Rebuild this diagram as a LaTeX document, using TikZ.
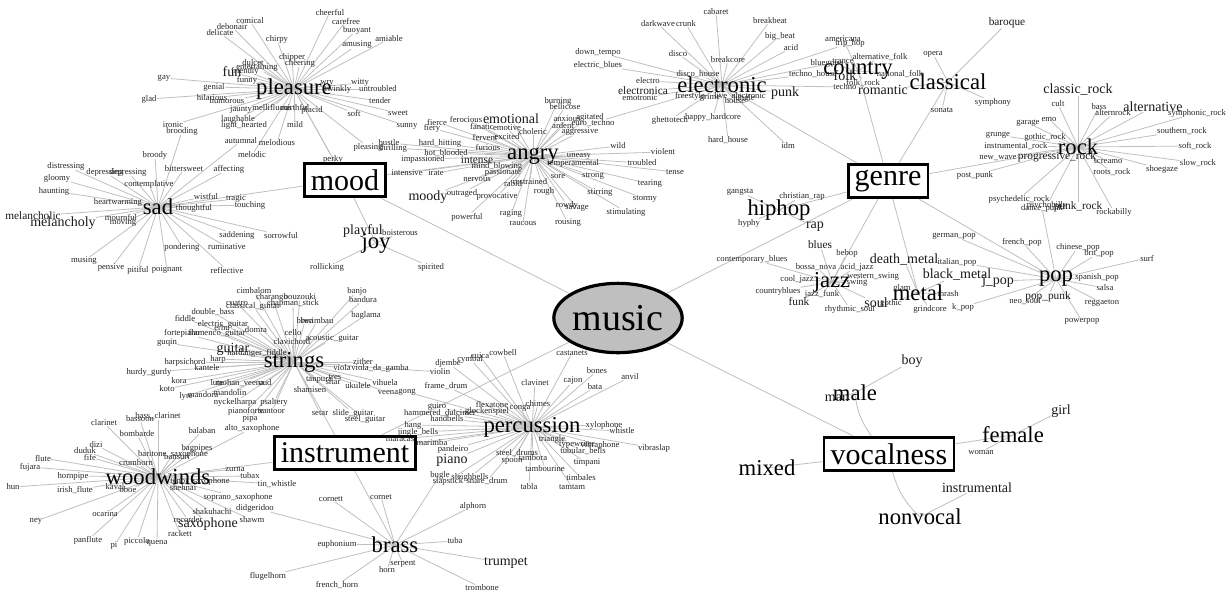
\documentclass[tikz,border=0pt]{standalone}
\usepackage{fontspec}
\setmainfont{Liberation Serif}
\usepackage{tikz}
\usetikzlibrary{shapes,arrows}
\pgfdeclarelayer{bg}
\pgfsetlayers{bg,main}

% leaves round a hub: name, list of x/y/style/text
\newcommand{\hubleaves}[2]{%
	\foreach \x/\y/\st/\t [count=\i] in {#2}
		\node[\st] (#1-\i) at (\x,\y) {\t};
	\begin{pgfonlayer}{bg}
		\foreach \x/\y/\st/\t [count=\i] in {#2}
			\draw[link] (#1.center) -- (#1-\i);
	\end{pgfonlayer}%
}

\begin{document}
\begin{tikzpicture}[x=0.75pt,y=-0.75pt,
	lfs/.style={inner sep=0pt,text=black!85,font=\fontsize{6.5}{7}\selectfont},
	lfm/.style={inner sep=0pt,text=black!90,font=\fontsize{8.5}{9}\selectfont},
	lfb/.style={inner sep=0pt,text=black!90,font=\fontsize{10.5}{11}\selectfont},
	hub/.style={inner sep=0pt,font=\fontsize{17}{17}\selectfont},
	cat/.style={draw,line width=2.2pt,fill=white,inner xsep=5pt,inner ysep=0pt,minimum height=25pt,font=\fontsize{22.5}{22.5}\selectfont},
	root/.style={ellipse,draw,line width=2.4pt,fill=gray!50,inner sep=0pt,minimum width=82pt,minimum height=52pt,font=\fontsize{28.5}{28.5}\selectfont},
	link/.style={gray!50,line width=0.6pt}]
		\useasboundingbox (0,0) rectangle (1231,594);

		% centre and the four groups
		\node[root] (music) at (618,318) {music};
		\node[cat] (mood) at (345,180) {mood};
		\node[cat] (genre) at (888,181) {genre};
		\node[cat] (instrument) at (345,453) {instrument};
		\node[cat] (vocalness) at (889,454) {vocalness};

		% hubs
		\node[hub] (pleasure) at (294,89) {pleasure};
		\node[hub] (sad) at (158,207) {sad};
		\node[hub] (angry) at (533,156) {angry};
		\node[hub] (joy) at (376,243) {joy};
		\node[hub] (electronic) at (722,85) {electronic};
		\node[hub] (country) at (858,71) {country};
		\node[hub] (classical) at (948,82) {classical};
		\node[hub] (rock) at (1078,147) {rock};
		\node[hub] (pop) at (1056,279) {pop};
		\node[hub] (metal) at (918,293) {metal};
		\node[hub] (jazz) at (832,282) {jazz};
		\node[hub] (hiphop) at (779,210) {hiphop};
		\node[hub] (strings) at (294,362) {strings};
		\node[hub] (woodwinds) at (158,477) {woodwinds};
		\node[hub] (percussion) at (532,427) {percussion};
		\node[hub] (brass) at (395,545) {brass};
		\node[hub] (male) at (855,393) {male};
		\node[hub] (female) at (1013,435) {female};
		\node[hub] (mixed) at (767,468) {mixed};
		\node[hub] (nonvocal) at (920,517) {nonvocal};

		\begin{pgfonlayer}{bg}
			\foreach \c in {mood,genre,instrument,vocalness}
				\draw[link] (music) -- (\c);
			\foreach \h in {pleasure,sad,angry,joy}
				\draw[link] (mood) -- (\h.center);
			\foreach \h in {electronic,country,classical,rock,pop,metal,jazz,hiphop}
				\draw[link] (genre) -- (\h.center);
			\foreach \h in {strings,woodwinds,percussion,brass}
				\draw[link] (instrument) -- (\h.center);
			\draw[link] (vocalness) to[bend left=15] (male.center);
			\draw[link] (vocalness) -- (female.center);
			\draw[link] (vocalness) -- (mixed.center);
			\draw[link] (vocalness) to[bend right=15] (nonvocal.center);
		\end{pgfonlayer}

		% mood
		\hubleaves{pleasure}{250/21/lfs/comical, 232/27/lfs/debonair, 220/33/lfs/delicate, 277/39/lfs/chirpy,
			292/57/lfs/chipper, 300/63/lfs/cheering, 253/63/lfs/dulcet, 257/68/lfs/entertaining, 245/71/lfs/friendly,
			232/72/lfb/fun, 247/80/lfs/funny, 164/78/lfs/gay, 214/87/lfs/genial, 149/99/lfs/glad, 212/98/lfs/hilarious,
			227/101/lfs/humorous, 241/110/lfs/jaunty, 272/107/lfs/mellifluous, 295/107/lfs/mirthful, 312/110/lfs/placid,
			238/119/lfs/laughable, 244/125/lfs/light\_hearted, 295/125/lfs/mild, 173/125/lfs/ironic, 277/143/lfs/melodious,
			252/155/lfs/melodic, 330/12/lfs/cheerful, 346/21/lfs/carefree, 357/30/lfs/buoyant, 389/39/lfs/amiable,
			357/45/lfs/amusing, 327/83/lfs/wry, 360/83/lfs/witty, 338/89/lfs/twinkly, 378/89/lfs/untroubled,
			380/101/lfs/tender, 354/113/lfs/soft, 398/113/lfs/sweet, 407/126/lfs/sunny, 333/159/lfs/perky, 368/147/lfs/pleasing}
		\hubleaves{sad}{182/131/lfs/brooding, 241/141/lfs/autumnal, 155/155/lfs/broody, 184/169/lfs/bittersweet,
			229/169/lfs/affecting, 66/166/lfs/distressing, 105/172/lfs/depressing, 128/172/lfs/depressing, 57/178/lfs/gloomy,
			149/184/lfs/contemplative, 54/191/lfs/haunting, 206/196/lfs/wistful, 236/199/lfs/tragic, 250/205/lfs/touching,
			118/202/lfs/heartwarming, 194/208/lfs/thoughtful, 33/216/lfm/melancholic, 63/223/lfb/melancholy,
			121/217/lfs/mournful, 123/223/lfs/moving, 237/235/lfs/saddening, 281/235/lfs/sorrowful, 182/247/lfs/pondering,
			227/247/lfs/ruminative, 84/261/lfs/musing, 111/268/lfs/pensive, 138/270/lfs/pitiful, 167/270/lfs/poignant,
			227/270/lfs/reflective}
		\hubleaves{angry}{437/122/lfs/fierce, 432/128/lfs/fiery, 466/119/lfs/ferocious, 511/119/lfb/emotional,
			482/126/lfs/fanatic, 507/128/lfs/emotive, 533/132/lfs/choleric, 563/126/lfs/ardent, 567/119/lfs/anxious,
			590/117/lfs/agitated, 558/101/lfs/burning, 565/107/lfs/bellicose, 580/132/lfs/aggressive, 485/137/lfs/fervent,
			507/137/lfs/excited, 488/147/lfs/furious, 440/143/lfs/hard\_hitting, 446/153/lfs/hot\_blooded,
			423/159/lfs/impassioned, 477/160/lfm/intense, 497/166/lfs/mind\_blowing, 503/173/lfs/passionate,
			407/173/lfs/intensive, 436/173/lfs/irate, 477/179/lfs/nervous, 513/184/lfs/rabid, 530/182/lfs/restrained,
			558/176/lfs/sore, 593/176/lfs/strong, 579/156/lfs/uneasy, 573/163/lfs/temperamental, 544/191/lfs/rough,
			428/197/lfb/moody, 462/193/lfs/outraged, 497/197/lfs/provocative, 600/193/lfs/stirring, 467/217/lfs/powerful,
			511/214/lfs/raging, 523/223/lfs/raucous, 567/205/lfs/rowdy, 577/208/lfs/savage, 568/223/lfs/rousing,
			626/212/lfs/stimulating, 645/199/lfs/stormy, 650/184/lfs/tearing, 675/172/lfs/tense, 642/163/lfs/troubled,
			663/152/lfs/violent, 618/146/lfs/wild, 389/143/lfs/bustle, 393/148/lfs/thrilling}
		\hubleaves{joy}{363/231/lfb/playful, 400/233/lfs/boisterous, 327/267/lfs/rollicking, 431/267/lfs/spirited}

		% genre
		\hubleaves{electronic}{716/12/lfs/cabaret, 658/24/lfs/darkwave, 686/24/lfs/crunk, 770/21/lfs/breakbeat,
			780/36/lfs/big\_beat, 791/48/lfs/acid, 678/54/lfs/disco, 598/52/lfs/down\_tempo, 598/65/lfs/electric\_blues,
			728/60/lfs/breakcore, 698/74/lfs/disco\_house, 648/81/lfs/electro, 643/91/lfm/electronica,
			640/98/lfs/emotronic, 690/96/lfs/freestyle, 740/96/lfs/live\_electronic, 710/98/lfs/grime, 735/101/lfs/house,
			744/98/lfs/jungle, 785/93/lfb/punk, 713/117/lfs/happy\_hardcore, 670/120/lfs/ghettotech,
			728/140/lfs/hard\_house, 788/146/lfs/idm, 593/123/lfs/euro\_techno, 850/43/lfs/trip\_hop, 843/61/lfs/trance,
			813/74/lfs/techno\_house, 845/87/lfs/techno}
		\hubleaves{country}{843/39/lfs/americana, 827/63/lfs/bluegrass, 880/57/lfs/alternative\_folk, 845/76/lfb/folk,
			900/74/lfs/national\_folk, 863/83/lfs/folk\_rock}
		\hubleaves{classical}{1007/23/lfm/baroque, 933/54/lfs/opera, 993/102/lfs/symphony, 942/110/lfs/sonata,
			883/90/lfb/romantic}
		\hubleaves{rock}{1078/90/lfb/classic\_rock, 1058/104/lfs/cult, 1099/107/lfs/bass, 1153/107/lfb/alternative,
			1113/113/lfs/alternrock, 1197/113/lfs/symphonic\_rock, 1049/119/lfs/emo, 1028/123/lfs/garage,
			1182/131/lfs/southern\_rock, 998/135/lfs/grunge, 1045/137/lfs/gothic\_rock, 1195/146/lfs/soft\_rock,
			1016/146/lfs/instrumental\_rock, 998/158/lfs/new\_wave, 1057/157/lfm/progressive\_rock, 1108/161/lfs/screamo,
			1198/163/lfs/slow\_rock, 1162/169/lfs/shoegaze, 1112/172/lfs/roots\_rock, 975/175/lfs/post\_punk,
			1019/199/lfs/psychedelic\_rock, 1047/205/lfs/psychobilly, 1078/207/lfm/punk\_rock, 1114/212/lfs/rockabilly}
		\hubleaves{pop}{954/236/lfs/german\_pop, 1022/242/lfs/french\_pop, 1078/247/lfs/chinese\_pop,
			1099/253/lfs/brit\_pop, 1147/258/lfs/surf, 957/262/lfs/italian\_pop, 998/281/lfb/j\_pop,
			1097/277/lfs/spanish\_pop, 1105/288/lfs/salsa, 1048/297/lfm/pop\_punk, 1025/301/lfs/neo\_soul,
			1102/303/lfs/reggaeton, 963/307/lfs/k\_pop, 1082/321/lfs/powerpop, 1042/208/lfs/dance\_punk}
		\hubleaves{metal}{904/260/lfb/death\_metal, 957/275/lfb/black\_metal, 902/288/lfs/glam, 891/303/lfs/gothic,
			948/294/lfs/thrash, 930/309/lfs/grindcore}
		\hubleaves{jazz}{820/245/lfm/blues, 847/253/lfs/bebop, 752/259/lfs/contemporary\_blues, 816/267/lfs/bossa\_nova,
			857/267/lfs/acid\_jazz, 873/277/lfs/western\_swing, 797/279/lfs/cool\_jazz, 857/283/lfs/swing,
			778/291/lfs/countryblues, 822/294/lfs/jazz\_funk, 799/302/lfm/funk, 850/309/lfs/rhythmic\_soul, 876/303/lfb/soul}
		\hubleaves{hiphop}{740/192/lfs/gangsta, 802/196/lfs/christian\_rap, 749/223/lfs/hyphy, 815/227/lfb/rap}

		% instrument
		\hubleaves{strings}{254/291/lfs/cimbalom, 272/297/lfs/charango, 300/297/lfs/bouzouki, 237/303/lfs/cuatro,
			253/306/lfs/classical\_guitar, 293/303/lfs/chapman\_stick, 213/312/lfs/double\_bass, 185/318/lfs/fiddle,
			223/324/lfs/electric\_guitar, 222/328/lfs/erhu, 256/330/lfs/domra, 182/333/lfs/fortepiano,
			217/333/lfs/flamenco\_guitar, 293/333/lfs/cello, 167/343/lfs/guqin, 292/342/lfs/clavichord,
			233/349/lfb/guitar, 257/353/lfs/hardanger\_fiddle, 185/362/lfs/harpsichord, 218/359/lfs/harp,
			207/368/lfs/kantele, 149/372/lfs/hurdy\_gurdy, 179/381/lfs/kora, 167/389/lfs/koto, 217/383/lfs/lute,
			240/383/lfs/mohan\_veena, 265/383/lfs/oud, 186/396/lfs/lyre, 203/395/lfs/mandora, 230/393/lfs/mandolin,
			235/402/lfs/nyckelharpa, 274/402/lfs/psaltery, 246/411/lfs/pianoforte, 272/411/lfs/santoor, 250/419/lfs/pipa,
			310/390/lfs/shamisen, 320/413/lfs/setar, 353/413/lfs/slide\_guitar, 365/419/lfs/steel\_guitar,
			357/291/lfs/banjo, 363/300/lfs/bandura, 366/315/lfs/baglama, 317/321/lfs/berimbau, 305/321/lfs/biwa,
			332/339/lfs/acoustic\_guitar, 363/362/lfs/zither, 342/368/lfs/viola, 380/368/lfs/viola\_da\_gamba,
			319/380/lfs/tanpura, 335/377/lfs/tres, 333/382/lfs/sitar, 358/386/lfs/ukulele, 385/383/lfs/vihuela,
			388/392/lfs/veena, 440/372/lfs/violin}
		\hubleaves{woodwinds}{104/423/lfs/clarinet, 140/419/lfs/bassoon, 158/416/lfs/bass\_clarinet,
			137/434/lfs/bombarde, 202/431/lfs/balaban, 96/445/lfs/dizi, 85/451/lfs/duduk, 90/457/lfs/fife,
			43/458/lfs/flute, 197/448/lfs/bagpipes, 173/454/lfs/baritone\_saxophone, 177/457/lfs/bansuri,
			136/463/lfs/crumhorn, 30/467/lfs/fujara, 73/476/lfs/hornpipe, 235/469/lfs/zurna, 250/476/lfs/tubax,
			200/481/lfs/tenor\_saxophone, 13/487/lfs/hun, 75/490/lfs/irish\_flute, 115/487/lfs/kaval, 128/490/lfs/oboe,
			183/488/lfs/shehnai, 277/484/lfs/tin\_whistle, 238/497/lfs/soprano\_saxophone, 105/514/lfs/ocarina,
			212/512/lfs/shakuhachi, 36/521/lfs/ney, 188/520/lfs/recorder, 208/524/lfb/saxophone, 252/520/lfs/shawm,
			180/534/lfs/rackett, 88/540/lfs/panflute, 137/541/lfs/piccolo, 114/546/lfs/pi, 157/543/lfs/quena,
			252/428/lfs/alto\_saxophone}
		\hubleaves{percussion}{572/353/lfs/castanets, 503/353/lfs/cowbell, 480/356/lfs/cuica, 470/359/lfs/cymbal,
			448/363/lfs/djembe, 597/371/lfs/bones, 573/381/lfs/cajon, 595/387/lfs/bata, 535/383/lfs/clavinet,
			446/386/lfs/frame\_drum, 630/377/lfs/anvil, 437/407/lfs/guiro, 440/413/lfs/hammered\_dulcimer,
			487/411/lfs/glockenspiel, 492/404/lfs/flexatone, 520/408/lfs/conga, 538/404/lfs/chimes,
			447/419/lfs/handbells, 413/425/lfs/hang, 418/432/lfs/jingle\_bells, 604/425/lfs/xylophone,
			622/431/lfs/whistle, 400/439/lfs/maracas, 432/443/lfs/marimba, 552/439/lfs/triangle, 577/445/lfs/typewriter,
			600/445/lfs/vibraphone, 583/451/lfs/tubular\_bells, 453/449/lfs/pandeiro, 452/460/lfb/piano,
			517/453/lfs/steel\_drums, 512/461/lfs/spoon, 533/458/lfs/tambora, 587/463/lfs/timpani,
			545/469/lfs/tambourine, 581/478/lfs/timbales, 470/477/lfs/sleighbells, 448/481/lfs/slapstick,
			487/481/lfs/snare\_drum, 529/487/lfs/tabla, 572/487/lfs/tamtam, 654/448/lfs/vibraslap, 407/392/lfs/gong}
		\hubleaves{brass}{331/499/lfs/cornett, 381/497/lfs/cornet, 473/506/lfs/alphorn, 337/544/lfs/euphonium,
			455/541/lfs/tuba, 506/563/lfb/trumpet, 403/564/lfs/serpent, 387/570/lfs/horn, 337/585/lfs/french\_horn,
			482/588/lfs/trombone, 268/576/lfs/flugelhorn, 255/508/lfs/didgeridoo, 440/475/lfs/bugle}

		% vocalness
		\hubleaves{male}{912/361/lfb/boy, 837/398/lfb/man}
		\hubleaves{female}{1061/411/lfb/girl, 981/452/lfs/woman}
		\hubleaves{nonvocal}{977/488/lfb/instrumental}
\end{tikzpicture}
\end{document}
